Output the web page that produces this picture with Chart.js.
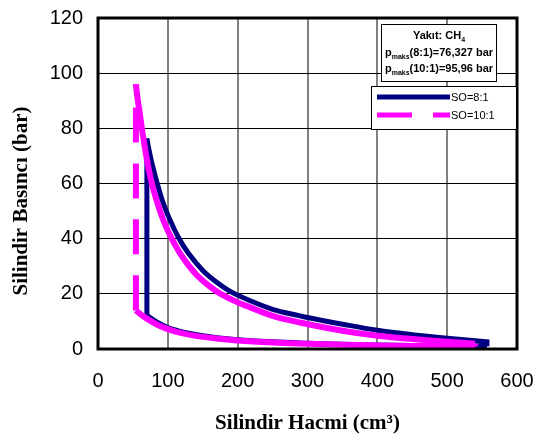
<!DOCTYPE html>
<html><head><meta charset="utf-8">
<script src="https://cdn.jsdelivr.net/npm/chart.js@4.4.1/dist/chart.umd.min.js"></script>
<style>html,body{margin:0;padding:0;background:#fff;}canvas{display:block;}</style>
</head><body>
<canvas id="c" width="533" height="436"></canvas>
<script>
// ---- data ----
const seriesLabels = ['SO=8:1', 'SO=10:1'];
const yAxisTitle = 'Silindir Basıncı (bar)';
const xAxisTitle = 'Silindir Hacmi (cm³)';
const fuelName = 'CH';
const fuelSub = '4';
const peakRatios = ['8:1', '10:1'];
const peakPressure = ['76,327', '95,96'];

// SO=8:1 cycle: compression -> constant-volume combustion -> expansion -> exhaust
// (corner points are listed twice so the smoothed line keeps sharp corners)
const so8Volume = [557, 500, 450, 400, 350, 300, 250, 200, 170, 150, 130, 115, 100, 85, 70, 70,
                   70, 70, 73, 77, 84, 92, 100, 115, 130, 150, 170, 190, 218, 250, 289, 300, 350, 400, 450, 500, 557, 557,
                   557];
const so8Pressure = [1.0, 1.1, 1.25, 1.45, 1.7, 2.1, 2.6, 3.4, 4.1, 4.8, 5.7, 6.6, 7.8, 9.6, 12.2, 12.2,
                     76.3, 76.3, 72.2, 67.6, 60.8, 53.9, 48.6, 40.5, 34.5, 28.5, 24.2, 20.8, 17.5, 14.4, 12.0, 11.4, 9.0, 6.8, 5.2, 3.9, 2.6, 2.6,
                     1.0];

// SO=10:1 cycle
const so10Volume = [540, 500, 450, 400, 350, 300, 250, 200, 170, 150, 130, 115, 100, 85, 70, 60, 54.3, 54.3,
                    54.3, 54.3, 56, 59, 63, 70, 77, 85, 95, 106, 120, 140, 160, 175, 200, 218, 250, 289, 350, 400, 450, 500, 540, 540,
                    540];
const so10Pressure = [0.9, 1.0, 1.1, 1.3, 1.55, 1.9, 2.4, 3.1, 3.8, 4.4, 5.2, 6.0, 7.2, 8.8, 11, 12.8, 14, 14,
                      96, 96, 92, 86.9, 79.7, 68.7, 60.1, 53, 45.8, 39.8, 33.7, 27.2, 22.7, 20.1, 16.9, 15.1, 12.0, 9.6, 6.6, 4.8, 3.6, 2.6, 1.9, 1.9,
                      0.9];

const xTicks = [0, 100, 200, 300, 400, 500, 600];
const yTicks = [0, 20, 40, 60, 80, 100, 120];

const colors = ['#000080', '#FF00FF'];

function toPoints(xs, ys) { return xs.map((x, i) => ({ x: x, y: ys[i] })); }

function noPad(s) { s.paddingTop = 0; s.paddingBottom = 0; s.paddingLeft = 0; s.paddingRight = 0; }

const overlay = {
  id: 'overlay',
  afterDraw(chart) {
    const ctx = chart.ctx;
    const a = chart.chartArea;
    ctx.save();
    // frame
    ctx.strokeStyle = '#000';
    ctx.lineWidth = 3;
    ctx.strokeRect(a.left, a.top, a.right - a.left, a.bottom - a.top);

    // y axis title (sits a little below the plot centre in the reference)
    ctx.save();
    ctx.translate(22, 201);
    ctx.rotate(-Math.PI / 2);
    ctx.font = 'bold 21px "Liberation Serif", "Times New Roman", serif';
    ctx.fillStyle = '#000';
    ctx.textAlign = 'center';
    ctx.textBaseline = 'middle';
    ctx.fillText(yAxisTitle, 0, 0);
    ctx.restore();

    // note box
    const bx = 381.5, by = 24.5, bw = 115, bh = 57;
    ctx.fillStyle = '#fff';
    ctx.fillRect(bx, by, bw, bh);
    ctx.lineWidth = 1;
    ctx.strokeRect(bx, by, bw, bh);
    const cx = bx + bw / 2;
    const main = 'bold 11px "Liberation Sans", Arial, sans-serif';
    const sub = 'bold 7px "Liberation Sans", Arial, sans-serif';
    function rich(parts, cy) {
      let w = 0;
      parts.forEach(p => { ctx.font = p.s ? sub : main; w += ctx.measureText(p.t).width; });
      let x = cx - w / 2;
      ctx.textBaseline = 'alphabetic';
      ctx.textAlign = 'left';
      ctx.fillStyle = '#000';
      parts.forEach(p => {
        ctx.font = p.s ? sub : main;
        ctx.fillText(p.t, x, cy + (p.s ? 3 : 0));
        x += ctx.measureText(p.t).width;
      });
    }
    rich([{ t: 'Yakıt: ' + fuelName }, { t: fuelSub, s: 1 }], 39);
    rich([{ t: 'p' }, { t: 'maks', s: 1 }, { t: '(' + peakRatios[0] + ')=' + peakPressure[0] + ' bar' }], 56);
    rich([{ t: 'p' }, { t: 'maks', s: 1 }, { t: '(' + peakRatios[1] + ')=' + peakPressure[1] + ' bar' }], 72);

    // legend
    const lx = 371.5, ly = 86.5, lw = 145, lh = 43;
    ctx.fillStyle = '#fff';
    ctx.fillRect(lx, ly, lw, lh);
    ctx.strokeStyle = '#000';
    ctx.lineWidth = 1;
    ctx.strokeRect(lx, ly, lw, lh);
    const ds = chart.data.datasets;
    const rows = [97, 115];
    ds.forEach((d, i) => {
      ctx.beginPath();
      ctx.strokeStyle = d.borderColor;
      ctx.lineWidth = 5;
      ctx.lineCap = 'butt';
      ctx.setLineDash(d.borderDash || []);
      ctx.moveTo(377, rows[i]);
      ctx.lineTo(450, rows[i]);
      ctx.stroke();
      ctx.setLineDash([]);
      ctx.fillStyle = '#000';
      ctx.font = '11px "Liberation Sans", Arial, sans-serif';
      ctx.textAlign = 'left';
      ctx.textBaseline = 'middle';
      ctx.fillText(d.label, 451, rows[i] + 1);
    });
    ctx.restore();
  }
};

new Chart(document.getElementById('c'), {
  type: 'scatter',
  data: {
    datasets: [
      {
        label: seriesLabels[0],
        data: toPoints(so8Volume, so8Pressure),
        showLine: true,
        borderColor: colors[0],
        backgroundColor: colors[0],
        borderWidth: 5,
        pointRadius: 0,
        tension: 0.35,
        order: 2
      },
      {
        label: seriesLabels[1],
        data: toPoints(so10Volume, so10Pressure),
        showLine: true,
        borderColor: colors[1],
        backgroundColor: colors[1],
        borderWidth: 6,
        borderDash: [35, 21],
        pointRadius: 0,
        tension: 0.35,
        order: 1,
        segment: {
          borderDash: c => (c.p0.parsed.x === c.p1.parsed.x && c.p0.parsed.y !== c.p1.parsed.y ? [35, 21] : [])
        }
      }
    ]
  },
  options: {
    responsive: false,
    animation: false,
    devicePixelRatio: 1,
    layout: { padding: { top: 18, right: 16, left: 0, bottom: 0 } },
    plugins: { legend: { display: false }, tooltip: { enabled: false } },
    scales: {
      x: {
        type: 'linear',
        min: 0, max: 600,
        afterBuildTicks: s => { s.ticks = xTicks.map(v => ({ value: v })); },
        afterFit: s => { s.height = 87; noPad(s); },
        grid: { color: '#808080', lineWidth: 2, drawTicks: false },
        border: { display: false },
        ticks: { color: '#000', padding: 20, font: { family: '"Liberation Sans", Arial', size: 20 } },
        title: {
          display: true, text: xAxisTitle, color: '#000',
          font: { family: '"Liberation Serif", "Times New Roman", serif', size: 21, weight: 'bold' },
          padding: { top: 0, bottom: 0 }
        }
      },
      y: {
        type: 'linear',
        min: 0, max: 120,
        afterBuildTicks: s => { s.ticks = yTicks.map(v => ({ value: v })); },
        afterFit: s => { s.width = 98; noPad(s); },
        grid: { color: '#000', lineWidth: 1, drawTicks: false },
        border: { display: false },
        ticks: { color: '#000', padding: 15, font: { family: '"Liberation Sans", Arial', size: 20 } },
        title: { display: false }
      }
    }
  },
  plugins: [overlay]
});
</script>
</body></html>
